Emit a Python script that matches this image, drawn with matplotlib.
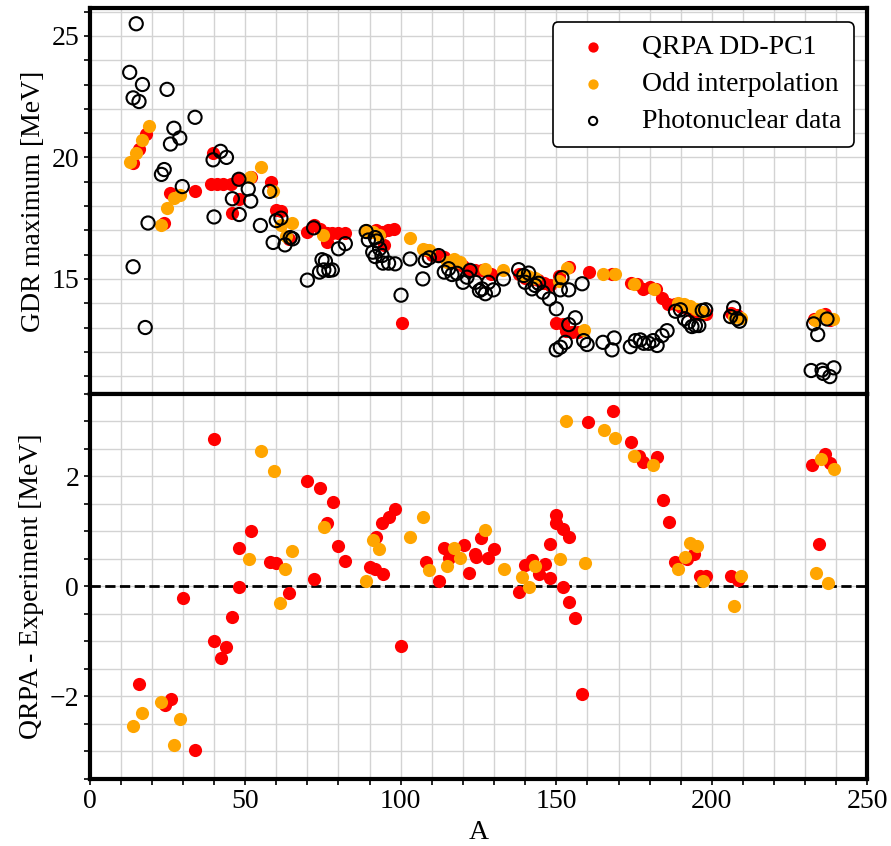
import matplotlib
matplotlib.use('Agg')
import matplotlib.pyplot as plt
from matplotlib.ticker import MultipleLocator

plt.rcParams['font.family'] = ['Liberation Serif', 'DejaVu Serif']
plt.rcParams['font.size'] = 20

# photonuclear data (A, GDR maximum)
A_exp = [15.0, 12.9, 17.0, 14.0, 15.9, 24.9, 33.9, 27.1, 29.0, 26.0, 39.7, 42.1,
         44.0, 24.0, 23.1, 48.0, 51.0, 57.9, 29.8, 45.9, 51.8, 18.8, 14.0, 17.9,
         40.0, 48.1, 54.9, 59.0, 60.0, 61.5, 62.8, 64.5, 65.3, 72.0, 70.0, 74.7,
         75.8, 73.9, 75.3, 76.9, 78.0, 80.0, 82.2, 88.9, 89.6, 91.8, 92.3, 91.0,
         93.2, 91.8, 94.0, 94.3, 96.1, 98.2, 100.1, 103.0, 107.1, 107.9, 109.2,
         112.2, 114.0, 115.4, 116.5, 118.1, 120.0, 121.3, 124.0, 125.3, 122.3,
         126.1, 127.2, 128.2, 129.8, 133.0, 137.9, 139.5, 141.1, 140.0, 142.2,
         143.2, 144.3, 145.7, 147.8, 150.0, 151.8, 151.3, 154.0, 158.3, 156.1,
         154.0, 150.0, 151.3, 152.9, 158.8, 159.9, 165.0, 167.9, 168.6, 173.8,
         175.4, 177.0, 178.1, 179.7, 181.1, 182.4, 184.0, 185.6, 188.3, 189.9,
         191.2, 192.5, 193.6, 194.7, 195.8, 196.9, 198.0, 207.0, 206.0, 208.1,
         208.9, 232.7, 234.0, 237.0, 231.9, 235.4, 235.8, 237.9, 239.2]
E_exp = [25.5, 23.5, 23.0, 22.45, 22.3, 22.8, 21.65, 21.2, 20.8, 20.55, 19.9, 20.25,
         20.0, 19.5, 19.3, 19.1, 18.7, 18.6, 18.8, 18.3, 18.2, 17.3, 15.5, 13.0,
         17.55, 17.65, 17.2, 16.5, 17.4, 17.5, 16.4, 16.7, 16.65, 17.1, 14.95, 15.79,
         15.73, 15.28, 15.37, 15.35, 15.37, 16.24, 16.45, 16.95, 16.6, 16.7, 16.56, 16.1,
         16.24, 15.92, 15.96, 15.65, 15.65, 15.62, 14.33, 15.82, 15.0, 15.76, 15.87,
         15.96, 15.28, 15.42, 15.18, 15.23, 14.86, 15.07, 14.86, 14.52, 15.35,
         14.59, 14.39, 14.86, 14.55, 15.0, 15.38, 15.14, 15.24, 14.86, 14.59,
         14.73, 14.82, 14.45, 14.18, 13.77, 15.05, 14.55, 14.55, 14.8, 13.4,
         13.12, 12.08, 12.19, 12.39, 12.46, 12.3, 12.39, 12.08, 12.57, 12.21,
         12.46, 12.49, 12.35, 12.35, 12.46, 12.26, 12.67, 12.87, 13.67, 13.73,
         13.36, 13.22, 13.04, 13.08, 13.08, 13.7, 13.73, 13.81, 13.45, 13.36,
         13.26, 13.15, 12.71, 13.35, 11.23, 11.25, 11.11, 10.98, 11.34]

# QRPA DD-PC1 (even nuclei)
A_qrpa = [14, 16, 18, 24, 26, 34, 39.7, 39, 41, 43, 45.5, 45.8, 48, 48, 52, 58.3,
          60, 61.5, 64, 70, 72, 74, 76.3, 76.3, 78, 80, 82, 90, 92, 94, 94.5, 96,
          98, 100.4, 108, 110, 112, 114, 116, 118, 120, 122, 124, 126, 129, 138,
          140, 142, 144, 146, 148, 150, 151, 152, 153, 154, 155, 157, 160.4, 168,
          174, 176, 178, 180, 182, 184, 186, 188, 190, 192, 194, 196, 198, 206,
          208, 232.7, 236.5, 238]
E_qrpa = [19.75, 20.35, 20.95, 17.3, 18.55, 18.6, 20.2, 18.9, 18.9, 18.9, 18.9, 17.7,
          19.1, 18.3, 19.2, 19.0, 17.85, 17.8, 16.65, 16.95, 17.2, 17.05, 16.5, 16.9,
          16.9, 16.9, 16.9, 16.95, 17.0, 16.95, 16.4, 17.0, 17.05, 13.2, 16.2, 16.0,
          15.95, 15.9, 15.75, 15.65, 15.55, 15.4, 15.35, 15.35, 15.2, 15.2, 15.05,
          15.0, 14.95, 14.85, 14.75, 13.2, 15.1, 13.15, 12.85, 15.5, 12.8, 12.8,
          15.3, 15.2, 14.85, 14.8, 14.6, 14.65, 14.6, 14.2, 13.95, 13.95, 13.85,
          13.8, 13.65, 13.55, 13.55, 13.6, 13.5, 13.35, 13.55, 13.3]

# odd interpolation
A_odd = [13, 15, 17, 19, 23, 25, 27, 29, 51.5, 55, 59, 61.5, 63, 65, 75, 89, 91, 93,
         103, 107.3, 109, 115, 117, 119, 127.2, 133, 139, 141, 143, 151, 153.4,
         159, 165, 169, 175, 181.3, 189, 191, 193, 195, 197, 207, 209.2, 233.2,
         235.2, 237.4, 239]
E_odd = [19.8, 20.2, 20.7, 21.3, 17.2, 17.9, 18.35, 18.45, 19.2, 19.6, 18.6, 17.2,
         16.75, 17.3, 16.8, 17.0, 16.95, 16.8, 16.7, 16.25, 16.2, 15.7, 15.8, 15.7,
         15.4, 15.35, 15.15, 15.1, 15.05, 14.9, 15.45, 12.9, 15.2, 15.2, 14.8, 14.6,
         14.0, 13.95, 13.9, 13.75, 13.65, 13.45, 13.4, 13.3, 13.5, 13.4, 13.35]

# QRPA - experiment
A_dq = [15.9, 24.2, 26.1, 30.1, 34.0, 39.9, 39.9, 42.1, 44.0, 45.9, 48.1, 48.1, 52.0,
        57.9, 60.0, 64.0, 70.0, 72.0, 74.1, 76.3, 78.1, 80.0, 82.2, 90.0, 92.1, 91.8,
        94.3, 94.0, 96.1, 98.2, 100.1, 108.1, 112.4, 113.8, 115.5, 120.2, 122.0,
        124.0, 124.3, 125.9, 128.2, 130.1, 138.1, 140.0, 142.2, 144.3, 146.5, 148.1,
        148.1, 150.0, 150.0, 152.3, 154.2, 152.2, 154.2, 156.1, 158.3, 160.2, 168.1,
        174.1, 176.5, 178.0, 182.2, 184.4, 186.3, 188.0, 192.0, 194.2, 196.3, 198.2,
        206.2, 208.3, 232.2, 234.3, 236.2, 238.1]
D_dq = [-1.77, -2.15, -2.04, -0.21, -2.98, 2.67, -1.0, -1.3, -1.1, -0.55, 0.7, -0.02,
        1.0, 0.44, 0.42, -0.13, 1.92, 0.13, 1.79, 1.15, 1.53, 0.73, 0.46, 0.35, 0.9,
        0.32, 0.23, 1.15, 1.26, 1.41, -1.09, 0.45, 0.1, 0.7, 0.51, 0.75, 0.24, 0.59,
        0.53, 0.87, 0.51, 0.67, -0.1, 0.38, 0.47, 0.22, 0.4, 0.76, 0.15, 1.29, 1.15,
        1.04, 0.89, -0.01, -0.29, -0.58, -1.95, 2.99, 3.19, 2.62, 2.37, 2.26, 2.35,
        1.57, 1.17, 0.45, 0.49, 0.58, 0.18, 0.18, 0.18, 0.12, 2.2, 0.76, 2.4, 2.24]

# odd interpolation - experiment
A_do = [14.0, 17.0, 22.9, 27.2, 29.0, 51.1, 55.0, 59.2, 61.2, 62.9, 65.0, 75.2, 88.9,
        91.0, 93.1, 103.0, 107.1, 109.2, 115.0, 117.0, 118.9, 127.2, 133.1, 139.0,
        141.1, 143.2, 151.1, 153.2, 159.1, 165.2, 169.0, 175.1, 181.1, 189.0, 191.2,
        193.1, 195.2, 197.2, 207.2, 209.2, 233.3, 235.2, 237.4, 239.2]
D_do = [-2.54, -2.3, -2.1, -2.89, -2.41, 0.5, 2.46, 2.1, -0.3, 0.31, 0.65, 1.07, 0.09,
        0.84, 0.67, 0.89, 1.25, 0.29, 0.37, 0.7, 0.52, 1.03, 0.31, 0.17, -0.02, 0.37,
        0.5, 3.01, 0.42, 2.84, 2.69, 2.36, 2.21, 0.31, 0.54, 0.78, 0.73, 0.09, -0.36,
        0.19, 0.25, 2.31, 0.06, 2.13]

red = '#ff0000'
orange = '#ffa500'
ms = 90

fig, (ax1, ax2) = plt.subplots(2, 1, sharex=True, figsize=(8.91, 8.46), dpi=100)
fig.subplots_adjust(left=0.1005, right=0.9736, top=0.9903, bottom=0.0792, hspace=0)

ax1.scatter(A_qrpa, E_qrpa, s=ms, color=red, lw=0, label='QRPA DD-PC1', zorder=3)
ax1.scatter(A_odd, E_odd, s=ms, color=orange, lw=0, label='Odd interpolation', zorder=4)
ax1.scatter(A_exp, E_exp, s=ms, facecolors='none', edgecolors='k', lw=1.5,
            label='Photonuclear data', zorder=5)
ax1.set_ylabel('GDR maximum [MeV]')
ax1.set_ylim(10.28, 26.14)
ax1.yaxis.set_major_locator(MultipleLocator(5))
ax1.yaxis.set_minor_locator(MultipleLocator(1))
leg = ax1.legend(loc='upper right', fontsize=20, handletextpad=0.75,
                 borderpad=0.45, labelspacing=0.42, fancybox=True)
leg.get_frame().set_edgecolor('k')
leg.get_frame().set_linewidth(1.2)
leg.get_frame().set_alpha(1)
for h, s in zip(leg.legend_handles, [55, 55, 35]):
    h.set_sizes([s])

ax2.scatter(A_dq, D_dq, s=ms, color=red, lw=0, zorder=3)
ax2.scatter(A_do, D_do, s=ms, color=orange, lw=0, zorder=4)
ax2.axhline(0, color='k', ls='--', lw=2, zorder=2)
ax2.set_ylabel('QRPA - Experiment [MeV]')
ax2.set_xlabel('A')
ax2.set_ylim(-3.5, 3.5)
ax2.yaxis.set_major_locator(MultipleLocator(2))
ax2.yaxis.set_minor_locator(MultipleLocator(0.5))

ax2.set_xlim(0, 250)
ax2.xaxis.set_major_locator(MultipleLocator(50))
ax2.xaxis.set_minor_locator(MultipleLocator(10))

for ax in (ax1, ax2):
    ax.grid(which='both', color='#d3d3d3', lw=1, zorder=0)
    ax.set_axisbelow(True)
    for sp in ax.spines.values():
        sp.set_linewidth(3)
    ax.tick_params(which='both', length=4, width=1.2)

fig.savefig('out.png', dpi=100)
